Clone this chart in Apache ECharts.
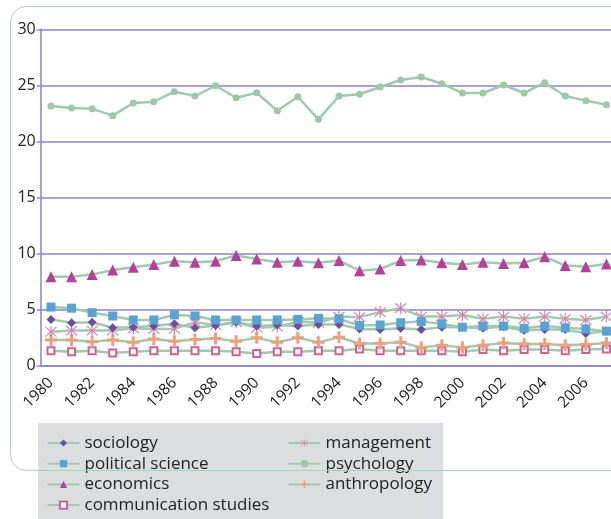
<!DOCTYPE html>
<html>
<head>
<meta charset="utf-8">
<script src="https://cdn.jsdelivr.net/npm/echarts@6/dist/echarts.min.js"></script>
<style>
  html, body { margin: 0; padding: 0; background: #fff; }
  #chart { width: 611px; height: 519px; }
</style>
</head>
<body>
<div id="chart"></div>
<script>
const years = ['1980', '1981', '1982', '1983', '1984', '1985', '1986', '1987', '1988', '1989',
  '1990', '1991', '1992', '1993', '1994', '1995', '1996', '1997', '1998', '1999',
  '2000', '2001', '2002', '2003', '2004', '2005', '2006', '2007']

const sociology = [4.1, 3.8, 3.85, 3.35, 3.4, 3.5, 3.7, 3.35, 3.55, 3.85, 3.5, 3.6, 3.5, 3.65,
  3.65, 3.25, 3.2, 3.3, 3.2, 3.4, 3.4, 3.3, 3.45, 3.1, 3.2, 3.2, 2.85, 3.05]
const politicalScience = [5.2, 5.1, 4.7, 4.4, 4.05, 4.05, 4.5, 4.4, 4.05, 4.05, 4.05, 4.05, 4.1, 4.2,
  4.15, 3.55, 3.6, 3.8, 3.9, 3.7, 3.4, 3.5, 3.5, 3.3, 3.5, 3.35, 3.25, 3.05]
const economics = [7.9, 7.9, 8.1, 8.5, 8.75, 9.0, 9.3, 9.2, 9.3, 9.8, 9.5, 9.2, 9.3, 9.15,
  9.35, 8.45, 8.6, 9.35, 9.4, 9.15, 9.0, 9.2, 9.1, 9.15, 9.7, 8.9, 8.8, 9.05]
const communication = [1.3, 1.2, 1.3, 1.1, 1.2, 1.3, 1.3, 1.3, 1.3, 1.2, 1.05, 1.2, 1.2, 1.3,
  1.3, 1.45, 1.3, 1.3, 1.3, 1.3, 1.2, 1.4, 1.3, 1.4, 1.4, 1.3, 1.4, 1.45]
const management = [3.0, 3.1, 3.1, 3.1, 3.3, 3.25, 3.25, 3.85, 3.6, 3.85, 3.35, 3.45, 3.9, 3.8,
  4.35, 4.3, 4.75, 5.1, 4.35, 4.35, 4.5, 4.15, 4.35, 4.15, 4.35, 4.15, 4.05, 4.35]
const psychology = [23.15, 22.97, 22.9, 22.29, 23.42, 23.54, 24.43, 24.04, 24.96, 23.89, 24.34, 22.73, 23.98, 21.96,
  24.04, 24.2, 24.85, 25.47, 25.74, 25.14, 24.31, 24.31, 25.03, 24.31, 25.23, 24.04, 23.63, 23.27]
const anthropology = [2.25, 2.25, 2.1, 2.25, 2.05, 2.35, 2.15, 2.3, 2.4, 2.15, 2.45, 2.05, 2.45, 2.05,
  2.5, 1.95, 1.95, 2.05, 1.6, 1.8, 1.6, 1.8, 2.0, 1.9, 1.9, 1.8, 1.85, 2.0]

const yTicks = { min: 0, max: 30, interval: 5 }

const lineColor = '#a3c9ad'
const gridColor = '#8e80c4'
const font = '"Open Sans", "Noto Sans", sans-serif'

// asterisk: vertical bar + two diagonals; plus: thick cross
const asterisk = 'path://M9.2,0H10.8V20H9.2Z M2.6,1.4L18.6,17.4L17.4,18.6L1.4,2.6Z M17.4,1.4L18.6,2.6L2.6,18.6L1.4,17.4Z'
const plus = 'path://M7.5,0H12.5V7.5H20V12.5H12.5V20H7.5V12.5H0V7.5H7.5Z'

function makeSeries(name, data, symbol, size, color, extra) {
  return Object.assign({
    name: name,
    type: 'line',
    data: data,
    symbol: symbol,
    symbolSize: size,
    showAllSymbol: true,
    lineStyle: { color: lineColor, width: 2.5 },
    itemStyle: { color: color },
    emphasis: { disabled: true }
  }, extra || {})
}

function legendBlock(left, names) {
  return {
    orient: 'vertical',
    left: left,
    top: 434.5,
    height: 100,
    padding: 0,
    itemWidth: 32,
    itemHeight: 9,
    itemGap: 3.7,
    textStyle: { fontSize: 17, color: '#222', fontFamily: font },
    data: names
  }
}

const chart = echarts.init(document.getElementById('chart'))

chart.setOption({
  animation: false,
  backgroundColor: '#fff',
  graphic: [
    {
      type: 'rect',
      z: -10,
      shape: { x: 38, y: 423, width: 405, height: 120 },
      style: { fill: '#dcdde0' }
    },
    {
      type: 'rect',
      z: 100,
      silent: true,
      shape: { x: 10.5, y: 6.5, width: 700, height: 464, r: 16 },
      style: { fill: 'none', stroke: '#a9d3b6', lineWidth: 1 }
    }
  ],
  legend: [
    legendBlock(46.5, ['sociology', 'political science', 'economics', 'communication studies']),
    legendBlock(287.5, ['management', 'psychology', 'anthropology'])
  ],
  grid: {
    left: 40.7,
    top: 29.3,
    right: -5.7,
    bottom: 153.7,
    outerBoundsMode: 'none'
  },
  xAxis: {
    type: 'category',
    data: years,
    axisLine: { lineStyle: { color: gridColor, width: 1.5 } },
    axisTick: { interval: 0, length: 4, lineStyle: { color: gridColor, width: 1.5 } },
    axisLabel: {
      interval: 1,
      rotate: 45,
      margin: 15,
      fontSize: 15.5,
      color: '#222',
      fontFamily: font
    }
  },
  yAxis: {
    type: 'value',
    min: yTicks.min,
    max: yTicks.max,
    interval: yTicks.interval,
    axisLine: { show: true, lineStyle: { color: gridColor, width: 1.5 } },
    axisTick: { show: true, length: 4, lineStyle: { color: gridColor, width: 1.5 } },
    axisLabel: { margin: 5, fontSize: 16, color: '#222', fontFamily: font },
    splitLine: { lineStyle: { color: gridColor, width: 1.5 } }
  },
  series: [
    makeSeries('psychology', psychology, 'circle', 7, '#9fc7aa'),
    makeSeries('economics', economics, 'triangle', 11, '#b5409a'),
    makeSeries('communication studies', communication, 'emptyRect', 7, '#d0609a', {
      itemStyle: { color: '#d0609a', borderWidth: 1 }
    }),
    makeSeries('anthropology', anthropology, plus, 12, '#e9a27e'),
    makeSeries('management', management, asterisk, 12, '#e07ab0'),
    makeSeries('sociology', sociology, 'diamond', 9, '#6b4fa0'),
    makeSeries('political science', politicalScience, 'rect', 9, '#5aa2d2')
  ]
})
</script>
</body>
</html>
